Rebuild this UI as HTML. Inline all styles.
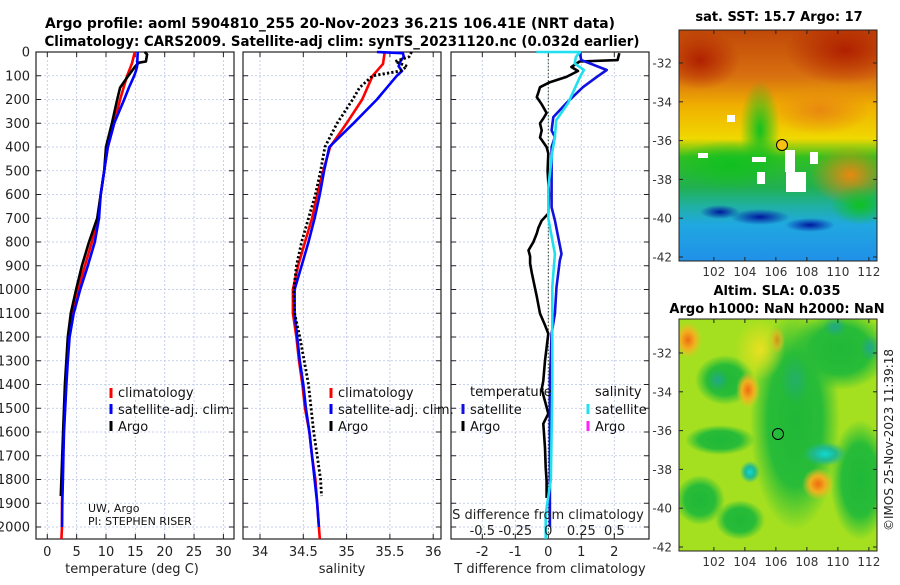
<!DOCTYPE html>
<html><head><meta charset="utf-8">
<style>
html,body{margin:0;padding:0;background:#fff;}
body{width:900px;height:580px;overflow:hidden;font-family:"Liberation Sans","DejaVu Sans",sans-serif;}
svg text{font-family:"DejaVu Sans","Liberation Sans",sans-serif;}
</style></head>
<body>
<svg id="chart" width="900" height="580" xmlns="http://www.w3.org/2000/svg">
<defs>
<clipPath id="clipTop"><rect x="679" y="30" width="198" height="231"/></clipPath>
<clipPath id="clipBot"><rect x="679" y="319" width="198" height="232"/></clipPath>
<linearGradient id="sstBands" x1="0" y1="0" x2="0" y2="1">
<stop offset="0" stop-color="#c04808"/>
<stop offset="0.2" stop-color="#d87010"/>
<stop offset="0.33" stop-color="#f0b000"/>
<stop offset="0.47" stop-color="#f0d800"/>
<stop offset="0.55" stop-color="#30c020"/>
<stop offset="0.68" stop-color="#20b050"/>
<stop offset="0.76" stop-color="#20b0a0"/>
<stop offset="0.84" stop-color="#20a8e0"/>
<stop offset="1" stop-color="#2090e8"/>
</linearGradient>
<radialGradient id="gRed"><stop offset="0" stop-color="#b02000"/><stop offset="1" stop-color="#b02000" stop-opacity="0"/></radialGradient>
<radialGradient id="gOr"><stop offset="0" stop-color="#e88810"/><stop offset="1" stop-color="#e88810" stop-opacity="0"/></radialGradient>
<radialGradient id="gGreen"><stop offset="0" stop-color="#10c020"/><stop offset="1" stop-color="#10c020" stop-opacity="0"/></radialGradient>
<radialGradient id="gNavy"><stop offset="0" stop-color="#0018a0"/><stop offset="1" stop-color="#0018a0" stop-opacity="0"/></radialGradient>
<radialGradient id="bOr"><stop offset="0" stop-color="#f06c10"/><stop offset="0.5" stop-color="#f0b020"/><stop offset="1" stop-color="#f0c020" stop-opacity="0"/></radialGradient>
<radialGradient id="bCy"><stop offset="0" stop-color="#10d8d0"/><stop offset="0.5" stop-color="#20b890"/><stop offset="1" stop-color="#20b890" stop-opacity="0"/></radialGradient>
<radialGradient id="bTeal"><stop offset="0" stop-color="#20a888"/><stop offset="1" stop-color="#20a888" stop-opacity="0"/></radialGradient>
<radialGradient id="bDG"><stop offset="0" stop-color="#20b838"/><stop offset="0.6" stop-color="#28bc38"/><stop offset="1" stop-color="#28bc38" stop-opacity="0"/></radialGradient>
<radialGradient id="bYel"><stop offset="0" stop-color="#e8e020"/><stop offset="1" stop-color="#e8e020" stop-opacity="0"/></radialGradient>
</defs>
<text x="330" y="28" text-anchor="middle" font-size="14" font-weight="bold" textLength="570" lengthAdjust="spacingAndGlyphs">Argo profile: aoml 5904810_255 20-Nov-2023 36.21S 106.41E (NRT data)</text>
<text x="342" y="46" text-anchor="middle" font-size="14" font-weight="bold" textLength="595" lengthAdjust="spacingAndGlyphs">Climatology: CARS2009. Satellite-adj clim: synTS_20231120.nc (0.032d earlier)</text>

<!-- top SST map -->
<g clip-path="url(#clipTop)">
<rect x="679" y="30" width="198" height="231" fill="url(#sstBands)"/>
<ellipse cx="845" cy="50" rx="60" ry="35" fill="url(#gRed)"/>
<ellipse cx="700" cy="60" rx="40" ry="30" fill="url(#gRed)"/>
<ellipse cx="850" cy="175" rx="40" ry="30" fill="url(#gOr)"/>
<ellipse cx="820" cy="110" rx="50" ry="25" fill="url(#gOr)"/>
<ellipse cx="760" cy="130" rx="20" ry="50" fill="url(#gGreen)"/>
<ellipse cx="730" cy="165" rx="55" ry="25" fill="url(#gGreen)"/>
<ellipse cx="860" cy="205" rx="30" ry="20" fill="url(#gGreen)"/>
<ellipse cx="760" cy="217" rx="30" ry="8" fill="url(#gNavy)"/>
<ellipse cx="720" cy="212" rx="20" ry="7" fill="url(#gNavy)"/>
<ellipse cx="810" cy="225" rx="25" ry="7" fill="url(#gNavy)"/>
<rect x="727" y="115" width="8" height="7" fill="#fff"/>
<rect x="752" y="157" width="14" height="5" fill="#fff"/>
<rect x="785" y="150" width="10" height="22" fill="#fff"/>
<rect x="810" y="152" width="8" height="12" fill="#fff"/>
<rect x="786" y="172" width="20" height="20" fill="#fff"/>
<rect x="698" y="153" width="10" height="5" fill="#fff"/>
<rect x="757" y="172" width="8" height="12" fill="#fff"/>
</g>
<rect x="679" y="30" width="198" height="231" fill="none" stroke="#222" stroke-width="1"/>
<circle cx="782" cy="145" r="5.5" fill="#f8c010" stroke="#000" stroke-width="1"/>
<text x="779" y="21" text-anchor="middle" font-size="13" font-weight="bold">sat. SST: 15.7 Argo: 17</text>

<!-- bottom SLA map -->
<g clip-path="url(#clipBot)">
<rect x="679" y="319" width="198" height="232" fill="#a4e020"/>
<ellipse cx="795" cy="420" rx="45" ry="110" fill="url(#bDG)"/>
<ellipse cx="840" cy="350" rx="50" ry="40" fill="url(#bDG)"/>
<ellipse cx="860" cy="480" rx="30" ry="60" fill="url(#bDG)"/>
<ellipse cx="725" cy="380" rx="30" ry="25" fill="url(#bDG)"/>
<ellipse cx="700" cy="500" rx="25" ry="25" fill="url(#bDG)"/>
<ellipse cx="740" cy="520" rx="25" ry="20" fill="url(#bDG)"/>
<ellipse cx="720" cy="440" rx="35" ry="15" fill="url(#bDG)"/>
<ellipse cx="760" cy="350" rx="25" ry="30" fill="url(#bYel)"/>
<ellipse cx="688" cy="340" rx="14" ry="18" fill="url(#bOr)"/>
<ellipse cx="748" cy="390" rx="12" ry="18" fill="url(#bOr)"/>
<ellipse cx="818" cy="484" rx="16" ry="16" fill="url(#bOr)"/>
<ellipse cx="777" cy="340" rx="8" ry="14" fill="url(#bOr)" opacity="0.6"/>
<ellipse cx="825" cy="454" rx="22" ry="12" fill="url(#bCy)"/>
<ellipse cx="750" cy="472" rx="10" ry="11" fill="url(#bCy)"/>
<ellipse cx="718" cy="380" rx="11" ry="11" fill="url(#bTeal)"/>
<ellipse cx="835" cy="327" rx="12" ry="10" fill="url(#bTeal)"/>
<ellipse cx="870" cy="348" rx="10" ry="13" fill="url(#bTeal)"/>
<ellipse cx="795" cy="380" rx="15" ry="25" fill="url(#bTeal)" opacity="0.6"/>
</g>
<rect x="679" y="319" width="198" height="232" fill="none" stroke="#222" stroke-width="1"/>
<circle cx="778" cy="434" r="5.5" fill="none" stroke="#000" stroke-width="1"/>
<text x="777" y="295" text-anchor="middle" font-size="13" font-weight="bold">Altim. SLA: 0.035</text>
<text x="777" y="313" text-anchor="middle" font-size="13" font-weight="bold">Argo h1000: NaN h2000: NaN</text>
<text transform="translate(893,440) rotate(-90)" text-anchor="middle" font-size="12" fill="#222">©IMOS 25-Nov-2023 11:39:18</text>
<g id="layer"></g>
</svg>
<script>
// ---- depth axis ----
const depthTicks = [0,100,200,300,400,500,600,700,800,900,1000,1100,1200,1300,1400,1500,1600,1700,1800,1900,2000];
// ---- temperature panel ----
const tempTicks = [0,5,10,15,20,25,30];
const tClimDepth = [0,50,100,200,300,400,500,600,700,800,900,1000,1100,1200,1300,1400,1500,1600,1700,1800,1900,2000,2050];
const tClim = [14.9,14.4,13.6,12.4,11.4,10.3,9.7,9.1,8.6,7.6,6.4,5.2,4.2,3.7,3.4,3.2,3.0,2.8,2.7,2.6,2.5,2.5,2.4];
const tSatDepth = [0,60,80,100,150,200,300,400,500,600,700,800,900,1000,1100,1200,1300,1400,1500,1600,1700,1800,1900,2000];
const tSat = [15.4,15.3,15.1,14.8,13.9,13.1,11.4,10.3,9.7,9.1,8.8,8.1,6.9,5.6,4.5,3.8,3.5,3.25,3.05,2.85,2.75,2.65,2.55,2.5];
const tArgoDepth = [0,10,40,45,60,100,150,200,300,400,500,600,700,800,900,1000,1100,1200,1400,1600,1870];
const tArgo = [16.6,17.0,16.8,15.6,15.0,13.8,12.4,11.9,11.0,10.0,9.7,9.1,8.5,7.1,5.9,4.9,4.0,3.5,3.0,2.7,2.3];
// ---- salinity panel ----
const salTicks = [34,34.5,35,35.5,36];
const salTickLabels = ["34","34.5","35","35.5","36"];
const sClimDepth = [0,50,100,200,300,400,500,600,700,800,900,1000,1100,1200,1300,1400,1500,1600,1700,1800,1900,2000,2050];
const sClim = [35.44,35.42,35.30,35.18,35.0,34.81,34.73,34.66,34.60,34.52,34.44,34.38,34.38,34.42,34.45,34.49,34.52,34.57,34.60,34.64,34.66,34.68,34.69];
const sSatDepth = [0,5,20,40,60,80,100,200,300,400,500,600,700,800,900,1000,1100,1200,1300,1400,1500,1600,1700,1800,1900,2000];
const sSat = [35.35,35.65,35.66,35.62,35.60,35.64,35.58,35.35,35.08,34.80,34.74,34.69,34.63,34.56,34.48,34.40,34.40,34.43,34.46,34.50,34.53,34.57,34.60,34.63,34.66,34.68];
const sArgoDepth = [0,20,40,60,80,100,150,200,300,400,500,600,700,800,900,1000,1100,1200,1300,1400,1500,1600,1700,1800,1870];
const sArgo = [35.75,35.72,35.56,35.70,35.62,35.30,35.15,35.07,34.89,34.75,34.70,34.64,34.56,34.48,34.42,34.39,34.40,34.46,34.51,34.56,34.59,34.62,34.66,34.70,34.71];
// ---- difference panel ----
const dTTicks = [-2,-1,0,1,2];
const dSTicks = [-0.5,-0.25,0,0.25,0.5];
const dTArgoDepth = [5,34,40,63,80,105,127,148,170,190,220,257,280,300,330,360,400,427,500,600,680,710,740,764,800,835,860,890,930,962,1030,1101,1150,1186,1300,1384,1420,1470,1523,1565,1667,1750,1806,1878];
const dTArgo = [2.15,2.1,0.95,0.7,0.9,0.55,0.05,-0.25,-0.3,-0.35,-0.2,-0.05,-0.15,-0.25,-0.2,-0.25,-0.05,0,-0.02,0.02,0,-0.2,-0.3,-0.35,-0.45,-0.6,-0.55,-0.55,-0.5,-0.45,-0.35,-0.25,-0.1,0,-0.1,-0.15,-0.2,-0.1,0,-0.15,-0.1,-0.08,-0.05,-0.05];
const dTSatDepth = [0,34,76,105,148,215,274,330,358,400,570,654,709,850,878,990,1101,1186,1384,2000];
const dTSat = [0.95,1.0,1.77,1.47,1.05,0.55,0.15,0.1,0.2,0.1,0.1,0.1,0.2,0.4,0.35,0.25,0.2,0.1,0.05,0.05];
const dSSatDepth = [0,0.5,20,48,76,105,215,287,358,420,570,700,850,990,1400,1800,1945,2050];
const dSSat = [-0.09,0.24,0.21,0.2,0.27,0.24,0.15,0.06,0.05,0.03,0.0,0.0,0.05,0.03,0.03,0.02,-0.02,-0.02];

const NS='http://www.w3.org/2000/svg';
const layer=document.getElementById('layer');
const TOP=52, PXM=0.2375, BOT=539;
function yD(d){return TOP+d*PXM;}
function mk(tag,attrs,parent){const e=document.createElementNS(NS,tag);for(const k in attrs)e.setAttribute(k,attrs[k]);(parent||layer).appendChild(e);return e;}
const panels=[
 {name:'temperature-panel',x0:36,x1:234,fx:v=>47.3+v*5.87},
 {name:'salinity-panel',x0:243,x1:441,fx:v=>260+(v-34)*86.6},
 {name:'difference-panel',x0:451,x1:649,fx:v=>548.3+v*33}
];
const fS3=v=>548.3+v*132;
function grid(p,ticks,labels,showY){
  const g=mk('g',{});
  
  
  depthTicks.forEach(d=>{
    const l=mk('line',{x1:p.x0,x2:p.x1,y1:yD(d),y2:yD(d),stroke:'#b8c4e8','stroke-width':0.8,'stroke-dasharray':'2 2'},g);
    
    
    mk('line',{x1:p.x0,x2:p.x0+5,y1:yD(d),y2:yD(d),stroke:'#222'},g);
    mk('line',{x1:p.x1,x2:p.x1-5,y1:yD(d),y2:yD(d),stroke:'#222'},g);
    if(showY){const t=mk('text',{x:p.x0-6,y:yD(d)+4.5,'text-anchor':'end','font-size':13,fill:'#222'},g);t.textContent=d;
      
      }
  });
  ticks.forEach((v,i)=>{
    const x=p.fx(v);
    const l=mk('line',{x1:x,x2:x,y1:TOP,y2:BOT,stroke:'#b8c4e8','stroke-width':0.8,'stroke-dasharray':'2 2'},g);
    
    
    mk('line',{x1:x,x2:x,y1:BOT,y2:BOT-5,stroke:'#222'},g);
    mk('line',{x1:x,x2:x,y1:TOP,y2:TOP+5,stroke:'#222'},g);
    const t=mk('text',{x:x,y:556,'text-anchor':'middle','font-size':13,fill:'#222'},g);t.textContent=labels[i];
    
    
  });
  const fr=mk('rect',{x:p.x0,y:TOP,width:p.x1-p.x0,height:BOT-TOP,fill:'none',stroke:'#222','stroke-width':1.2},g);
  
  
  return g;
}
function line(fx,xs,ds,color,name,extra){
  const pts=xs.map((v,i)=>fx(v).toFixed(1)+','+yD(ds[i]).toFixed(1)).join(' ');
  const a={points:pts,fill:'none',stroke:color,'stroke-width':2.6,'stroke-linejoin':'round'};
  if(extra)Object.assign(a,extra);
  const e=mk('polyline',a);
  
  
}
function txt(x,y,s,size,name,anchor,col){
  const t=mk('text',{x:x,y:y,'font-size':size,fill:col||'#111','text-anchor':anchor||'start'});t.textContent=s;
  
  
}
function mark(x,y,color,name){
  const r=mk('rect',{x:x-1.5,y:y-6,width:3,height:10,fill:color});
  
  
}
// panel 1
grid(panels[0],tempTicks,tempTicks.map(String),true);
line(panels[0].fx,tClim,tClimDepth,'#ff0000','temp-climatology-line');
line(panels[0].fx,tArgo,tArgoDepth,'#000000','temp-argo-line');
line(panels[0].fx,tSat,tSatDepth,'#0000ff','temp-satellite-line');
txt(132,573,'temperature (deg C)',13,'temperature-axis-title','middle','#222');
mark(111,394,'#ff0000','legend-climatology-marker');txt(118,397,'climatology',13,'legend-climatology');
mark(111,410,'#0000ff','legend-satellite-marker');txt(118,414,'satellite-adj. clim.',13,'legend-satellite');
mark(111,427,'#000000','legend-argo-marker');txt(118,431,'Argo',13,'legend-argo');
txt(88,512,'UW, Argo',11,'pi-institution');
txt(88,525,'PI: STEPHEN RISER',11,'pi-name');
// panel 2
grid(panels[1],salTicks,salTickLabels,false);
line(panels[1].fx,sClim,sClimDepth,'#ff0000','sal-climatology-line');
line(panels[1].fx,sSat,sSatDepth,'#0000ff','sal-satellite-line');
line(panels[1].fx,sArgo,sArgoDepth,'#000000','sal-argo-line',{'stroke-dasharray':'2.2 2.2','stroke-width':2.8});
txt(342,573,'salinity',13,'salinity-axis-title','middle','#222');
mark(331,394,'#ff0000','legend2-climatology-marker');txt(338,397,'climatology',13,'legend2-climatology');
mark(331,410,'#0000ff','legend2-satellite-marker');txt(338,414,'satellite-adj. clim.',13,'legend2-satellite');
mark(331,427,'#000000','legend2-argo-marker');txt(338,431,'Argo',13,'legend2-argo');
// panel 3
grid(panels[2],dTTicks,dTTicks.map(String),false);
const zl=mk('line',{x1:548.3,x2:548.3,y1:TOP,y2:BOT,stroke:'#334422','stroke-width':1,'stroke-dasharray':'1.5 2'});


line(panels[2].fx,dTArgo,dTArgoDepth,'#000000','tdiff-argo-line');
line(panels[2].fx,dTSat,dTSatDepth,'#1010e0','tdiff-satellite-line');
line(fS3,dSSat,dSSatDepth,'#20e0f0','sdiff-satellite-line');
txt(550,573,'T difference from climatology',13,'tdiff-axis-title','middle','#222');
txt(548,519,'S difference from climatology',13,'sdiff-axis-title','middle','#222');
const sLab=["-0.5","-0.25","0","0.25","0.5"];
dSTicks.forEach((v,i)=>{txt(fS3(v),535,sLab[i],13,'sdiff-tick-label','middle','#222');});
txt(470,396,'temperature',13,'legend3-temperature-header');
txt(595,396,'salinity',13,'legend3-salinity-header');
mark(463,410,'#1010e0','legend3-t-satellite-marker');txt(470,414,'satellite',13,'legend3-t-satellite');
mark(463,427,'#000000','legend3-t-argo-marker');txt(470,431,'Argo',13,'legend3-t-argo');
mark(588,410,'#20e0f0','legend3-s-satellite-marker');txt(595,414,'satellite',13,'legend3-s-satellite');
mark(588,427,'#ff20ff','legend3-s-argo-marker');txt(595,431,'Argo',13,'legend3-s-argo');
// map axes
const latTicks=[-32,-34,-36,-38,-40,-42];
const lonTicks=[102,104,106,108,110,112];
[[30,63],[319,353]].forEach(([top,y32],mi)=>{
  latTicks.forEach(la=>{
    const y=y32+(-32-la)*19.4;
    mk('line',{x1:679,x2:683,y1:y,y2:y,stroke:'#222'});mk('line',{x1:877,x2:873,y1:y,y2:y,stroke:'#222'});
    txt(672,y+4.5,String(la),12,'map-lat-label','end','#333');
  });
  const bot=mi?551:261;
  lonTicks.forEach(lo=>{
    const x=679+(lo-99.75)*15.5;
    mk('line',{x1:x,x2:x,y1:bot,y2:bot-4,stroke:'#222'});mk('line',{x1:x,x2:x,y1:top,y2:top+4,stroke:'#222'});
    txt(x,bot+15,String(lo),12,'map-lon-label','middle','#333');
  });
});
</script>
</body></html>
